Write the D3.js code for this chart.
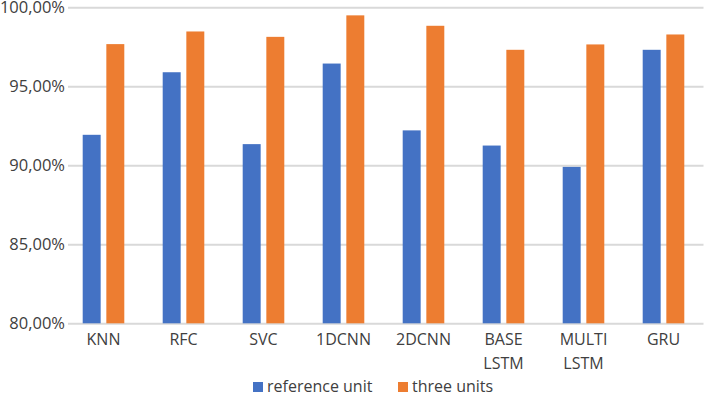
<!DOCTYPE html>
<html>
<head>
<meta charset="utf-8">
<script src="https://d3js.org/d3.v7.min.js"></script>
<style>
    body { margin: 0; background: #fff; }
    text { font-family: "Open Sans", sans-serif; }
</style>
</head>
<body>
<svg id="drawing_region"></svg>
<script>
// values (percent)
const categories = ["KNN", "RFC", "SVC", "1DCNN", "2DCNN", "BASE\nLSTM", "MULTI\nLSTM", "GRU"];
const series = ["reference unit", "three units"];
const referenceUnit = [91.93, 95.89, 91.34, 96.44, 92.21, 91.25, 89.90, 97.31];
const threeUnits = [97.67, 98.47, 98.13, 99.49, 98.83, 97.31, 97.65, 98.28];
const yTicks = [80, 85, 90, 95, 100];
const colors = ["#4472C4", "#ED7D31"];

var data = categories.map( (c, i) => ({ name: c, values: [referenceUnit[i], threeUnits[i]] }) );

var config = {
    parent: '#drawing_region',
    width: 707,
    height: 396,
    left: 63.5,
    right: 703.5,
    top: 7.3,
    bottom: 323.3
};

class GroupedBarChart {

    constructor( config, data ) {
        this.config = config;
        this.data = data;
        this.init();
    }

    init() {
        let self = this;

        self.svg = d3.select( self.config.parent )
            .attr('width', self.config.width)
            .attr('height', self.config.height);

        self.xscale = d3.scaleBand()
            .domain( categories )
            .range( [self.config.left, self.config.right] );

        self.x1 = d3.scaleBand()
            .domain( d3.range(series.length) )
            .range( [-20.8, 20.8] )
            .paddingInner(0.24);

        self.yscale = d3.scaleLinear()
            .domain( [80, 100] )
            .range( [self.config.bottom, self.config.top] );

        self.locale = d3.formatLocale({ decimal: ",", thousands: ".", grouping: [3], currency: ["", "€"] });
    }

    render() {
        let self = this;
        const fmt = self.locale.format(".2f");

        // gridlines + y labels
        const yaxis = d3.axisLeft( self.yscale )
            .tickValues( yTicks )
            .tickSize( -(self.config.right - 68) )
            .tickPadding( 3 )
            .tickFormat( d => fmt(d) + "%" );

        const yg = self.svg.append('g')
            .attr('transform', `translate(68, 0)`)
            .call( yaxis );
        yg.select('.domain').remove();
        yg.selectAll('.tick line')
            .attr('stroke', "#d9d9d9")
            .attr('stroke-width', 2);
        yg.selectAll('.tick text')
            .attr('fill', "#404040")
            .attr('font-size', "16.5px");

        // bars
        const groups = self.svg.append('g').selectAll('g')
            .data( self.data )
            .join('g')
            .attr('transform', d => `translate(${self.xscale(d.name) + self.xscale.bandwidth() / 2}, 0)`);

        groups.selectAll('rect')
            .data( d => d.values )
            .join('rect')
            .attr('x', (v, i) => self.x1(i) )
            .attr('y', v => self.yscale(v) )
            .attr('width', self.x1.bandwidth() )
            .attr('height', v => self.yscale(80) - self.yscale(v) )
            .attr('fill', (v, i) => colors[i] );

        // category labels (two lines where needed)
        const xg = self.svg.append('g');
        self.data.forEach( d => {
            const t = xg.append('text')
                .attr('x', self.xscale(d.name) + self.xscale.bandwidth() / 2)
                .attr('y', 345)
                .attr('text-anchor', "middle")
                .attr('fill', "#404040")
                .attr('font-size', "16px");
            d.name.split("\n").forEach( (line, i) => {
                t.append('tspan')
                    .attr('x', self.xscale(d.name) + self.xscale.bandwidth() / 2)
                    .attr('dy', i == 0 ? 0 : 24)
                    .text(line);
            });
        });

        // legend
        const legendX = [253, 398];
        const legend = self.svg.append('g').selectAll('g')
            .data( series )
            .join('g')
            .attr('transform', (d, i) => `translate(${legendX[i]}, 382)`);
        legend.append('rect')
            .attr('width', 10)
            .attr('height', 10)
            .attr('fill', (d, i) => colors[i] );
        legend.append('text')
            .attr('x', 14)
            .attr('y', 10)
            .attr('fill', "#404040")
            .attr('font-size', "16px")
            .text( d => d );
    }
}

const chart = new GroupedBarChart( config, data );
chart.render();
</script>
</body>
</html>
